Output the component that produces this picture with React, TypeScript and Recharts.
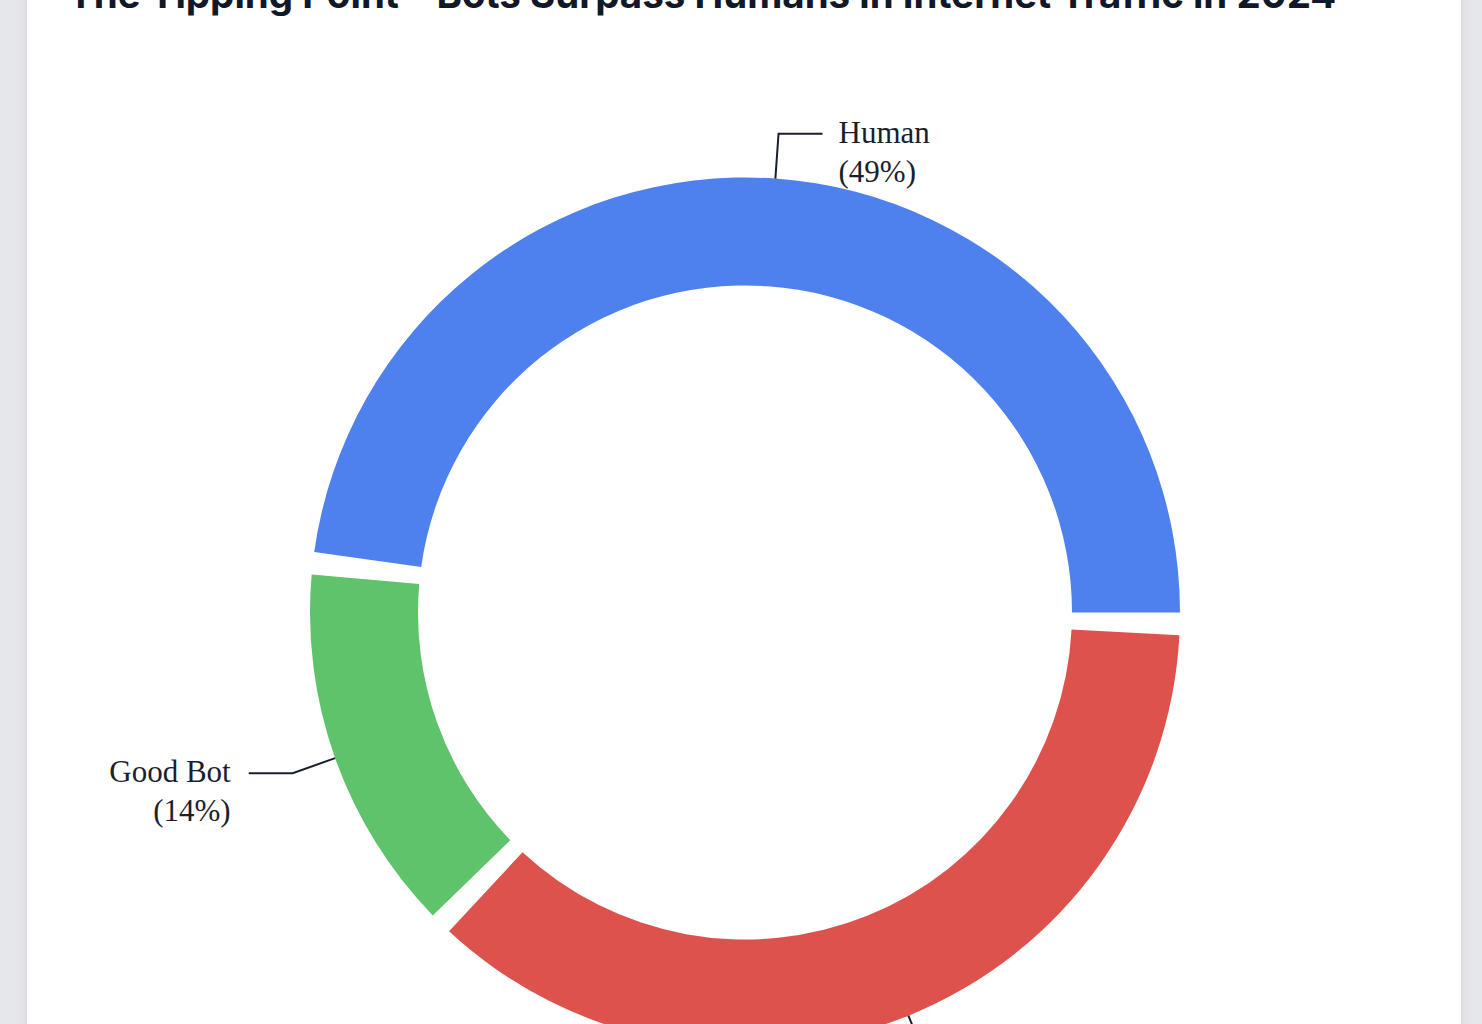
import { PieChart, Pie, Cell } from "recharts";

const categories = ["Human", "Good Bot", "Bad Bot"];
const shares = [49, 14, 37];
const colors = ["#4e81ee", "#5ec36b", "#de524e"];

const chartData = categories.map((name, i) => ({ name, value: shares[i] }));

const RADIAN = Math.PI / 180;

const renderLabel = (props: any) => {
  const { cx, cy, midAngle, outerRadius, name, value } = props;
  const cos = Math.cos(-midAngle * RADIAN);
  const sin = Math.sin(-midAngle * RADIAN);
  const sx = cx + outerRadius * cos;
  const sy = cy + outerRadius * sin;
  const mx = cx + (outerRadius + 45) * cos;
  const my = cy + (outerRadius + 45) * sin;
  const right = cos >= 0;
  const ex = mx + (right ? 44 : -44);
  const tx = ex + (right ? 16 : -18);
  return (
    <g>
      <path
        d={`M${sx},${sy}L${mx},${my}L${ex},${my}`}
        stroke="#1a1f2e"
        strokeWidth={2}
        fill="none"
      />
      <text
        x={tx}
        y={my + 9}
        textAnchor={right ? "start" : "end"}
        fill="#1a1f2e"
        fontFamily="'Liberation Serif', serif"
        fontSize={31}
      >
        <tspan x={tx}>{name}</tspan>
        <tspan x={tx} dy={39}>{`(${value}%)`}</tspan>
      </text>
    </g>
  );
};

export default function App() {
  return (
    <div
      style={{
        position: "fixed",
        inset: 0,
        background: "#e6e7ea",
        overflow: "hidden",
      }}
    >
      <div
        style={{
          position: "absolute",
          left: 27,
          top: -100,
          width: 1434,
          height: 1300,
          background: "#ffffff",
          boxShadow: "0 0 12px rgba(0,0,0,0.08)",
        }}
      >
        <div
          style={{
            position: "absolute",
            left: 41,
            top: 69,
            whiteSpace: "nowrap",
            fontFamily: "Inter, 'Noto Sans', sans-serif",
            fontWeight: 700,
            fontSize: 38.5,
            lineHeight: "50px",
            color: "#111827",
          }}
        >
          The Tipping Point – Bots Surpass Humans in Internet Traffic in 2024
        </div>
        <PieChart width={1434} height={1300}>
          <Pie
            data={chartData}
            dataKey="value"
            nameKey="name"
            cx={713}
            cy={707.5}
            innerRadius={327}
            outerRadius={435}
            startAngle={0}
            endAngle={360}
            paddingAngle={3}
            stroke="none"
            label={renderLabel}
            labelLine={false}
            isAnimationActive={false}
          >
            {chartData.map((d, i) => (
              <Cell key={d.name} fill={colors[i]} />
            ))}
          </Pie>
        </PieChart>
      </div>
    </div>
  );
}
